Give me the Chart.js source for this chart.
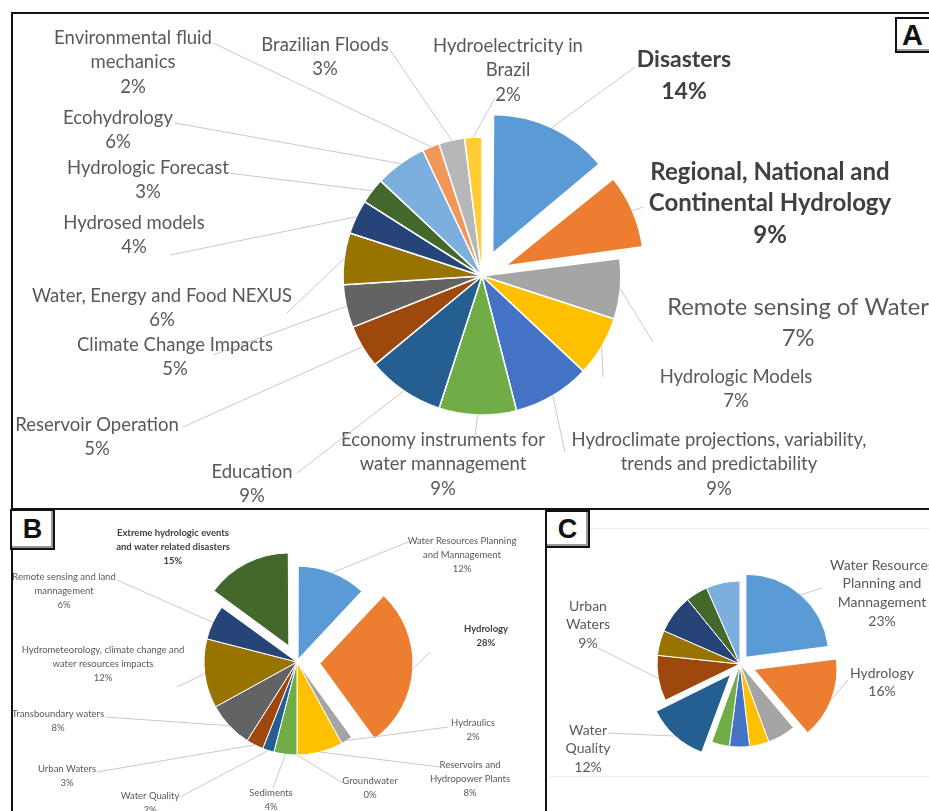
<!DOCTYPE html>
<html>
<head>
<meta charset="utf-8">
<script src="https://cdn.jsdelivr.net/npm/chart.js@4.4.1/dist/chart.umd.min.js"></script>
<style>
  body { margin: 0; width: 929px; height: 811px; overflow: hidden; position: relative; background: #fff; font-family: Lato, sans-serif; }
  .frame { position: absolute; border: 2px solid #111; box-sizing: border-box; }
  .tag { position: absolute; border: 2px solid #111; background: #fff; box-sizing: border-box;
         font: bold 27px "Liberation Sans", Arial, sans-serif; color: #111; text-align: center;
         box-shadow: inset -2px -2px 0 #999; }
  .rule { position: absolute; height: 1px; background: #eee; }
  canvas { position: absolute; left: 0; top: 0; }
</style>
</head>
<body>
<div class="frame" style="left:11px;top:12px;width:940px;height:498px"></div>
<div class="frame" style="left:11px;top:508px;width:536px;height:320px"></div>
<div class="frame" style="left:545px;top:508px;width:400px;height:320px"></div>
<div class="rule" style="left:590px;top:528px;width:339px"></div>
<div class="rule" style="left:550px;top:776px;width:379px"></div>
<div class="tag" style="left:895px;top:17px;width:40px;height:36px;line-height:32px;text-align:left;padding-left:5px;font-size:29px">A</div>
<div class="tag" style="left:10px;top:509px;width:45px;height:41px;line-height:37px">B</div>
<div class="tag" style="left:545px;top:510px;width:45px;height:38px;line-height:34px">C</div>

<canvas id="pieA" width="929" height="811"></canvas>
<canvas id="pieB" width="929" height="811"></canvas>
<canvas id="pieC" width="929" height="811"></canvas>

<script>
// ---- data ----
var catA = ['Disasters', 'Regional, National and\nContinental Hydrology', 'Remote sensing of Water',
  'Hydrologic Models', 'Hydroclimate projections, variability,\ntrends and predictability',
  'Economy instruments for\nwater mannagement', 'Education', 'Reservoir Operation',
  'Climate Change Impacts', 'Water, Energy and Food NEXUS', 'Hydrosed models', 'Hydrologic Forecast',
  'Ecohydrology', 'Environmental fluid\nmechanics', 'Brazilian Floods', 'Hydroelectricity in\nBrazil'];
var valA = [14, 9, 7, 7, 9, 9, 9, 5, 5, 6, 4, 3, 6, 2, 3, 2];

var catB = ['Water Resources Planning\nand Mannagement', 'Hydrology', 'Hydraulics',
  'Reservoirs and\nHydropower Plants', 'Groundwater', 'Sediments', 'Water Quality', 'Urban Waters',
  'Transboundary waters', 'Hydrometeorology, climate change and\nwater resources impacts',
  'Remote sensing and land\nmannagement', 'Extreme hydrologic events\nand water related disasters'];
var valB = [12, 28, 2, 8, 0, 4, 2, 3, 8, 12, 6, 15];

var catC = ['Water Resources\nPlanning and\nMannagement', 'Hydrology', '', '', '', '',
  'Water\nQuality', 'Urban\nWaters', '', '', '', '', ''];
var valC = [23, 16, 5.5, 3.8, 3.9, 3.5, 12.3, 8.9, 0, 4.9, 7.6, 4.3, 6.6];

// ---- styles ----
var office = ['#5B9BD5', '#ED7D31', '#A5A5A5', '#FFC000', '#4472C4', '#70AD47', '#255E91', '#9E480E',
  '#636363', '#997300', '#264478', '#43682B', '#7CAFDD', '#F1975A', '#B7B7B7', '#FFCD33'];

// label text position (x, y of first line) and leader anchor (ax, ay)
var labA = [
  {x: 684, y: 60, ax: 635, ay: 67, size: 23, lh: 32, bold: true},
  {x: 770, y: 172, ax: 643, ay: 207, size: 24, lh: 31.5, bold: true},
  {x: 798, y: 307, ax: 653, ay: 342, size: 23.7, lh: 31},
  {x: 736, y: 377, ax: 603, ay: 377},
  {x: 719, y: 440, ax: 565, ay: 452},
  {x: 443, y: 440, ax: 475, ay: 436},
  {x: 252, y: 472, ax: 297, ay: 473},
  {x: 97, y: 425, ax: 183, ay: 427},
  {x: 175, y: 345, ax: 213, ay: 355},
  {x: 162, y: 296, ax: 287, ay: 313},
  {x: 134, y: 223, ax: 170, ay: 255},
  {x: 148, y: 168, ax: 228, ay: 173},
  {x: 118, y: 118, ax: 175, ay: 123},
  {x: 133, y: 38, ax: 213, ay: 43},
  {x: 325, y: 45, ax: 390, ay: 50},
  {x: 508, y: 46, ax: 495, ay: 98}
];
var labB = [
  {x: 462, y: 541, ax: 408, ay: 542},
  {x: 486, y: 629, ax: 430, ay: 652, bold: true},
  {x: 473, y: 723, ax: 448, ay: 727},
  {x: 470, y: 765, ax: 440, ay: 767},
  {x: 370, y: 781, ax: 343, ay: 783},
  {x: 271, y: 793, ax: 273, ay: 788},
  {x: 150, y: 796, ax: 180, ay: 797},
  {x: 67, y: 769, ax: 97, ay: 772},
  {x: 58, y: 714, ax: 105, ay: 717},
  {x: 103, y: 650, ax: 177, ay: 687},
  {x: 64, y: 577, ax: 117, ay: 580},
  {x: 173, y: 533, bold: true}
];
var labC = [
  {x: 882, y: 565, ax: 822, ay: 588},
  {x: 882, y: 673, ax: 848, ay: 680},
  null, null, null, null,
  {x: 588, y: 730, ax: 608, ay: 733},
  {x: 588, y: 606, ax: 598, ay: 648}
];

// Chart.js moves an exploded arc by offset/4 and also grows its radius a bit;
// keep exploded slices at the same radius as the others
var sameRadius = {
  id: 'sameRadius',
  afterDatasetsUpdate: function (chart) {
    var meta = chart.getDatasetMeta(0);
    var ds = chart.data.datasets[0];
    meta.data.forEach(function (arc, i) {
      var t = (ds.offset[i] || 0) / 4;
      if (!t) return;
      var fix = 1 - Math.sin(Math.min(Math.PI, arc.circumference || 0));
      arc.outerRadius = ds.radius - t * fix;
    });
  }
};

var pieLabels = {
  id: 'pieLabels',
  afterDatasetsDraw: function (chart, args, opts) {
    var ctx = chart.ctx;
    var meta = chart.getDatasetMeta(0);
    var ds = chart.data.datasets[0];
    ctx.save();
    opts.items.forEach(function (it, i) {
      if (!it) return;
      var arc = meta.data[i];
      var p = arc.getProps(['x', 'y', 'startAngle', 'endAngle']);
      var mid = (p.startAngle + p.endAngle) / 2;
      var reach = ds.radius + (ds.offset[i] || 0) / 4;
      if (it.ax !== undefined) {
        ctx.strokeStyle = '#c9c9c9';
        ctx.lineWidth = 1;
        ctx.beginPath();
        ctx.moveTo(it.ax, it.ay);
        ctx.lineTo(p.x + Math.cos(mid) * reach, p.y + Math.sin(mid) * reach);
        ctx.stroke();
      }
      var lines = chart.data.labels[i].split('\n');
      lines.push(Math.round(ds.data[i]) + '%');
      var size = it.size || opts.size;
      var lh = it.lh || opts.lh;
      ctx.font = (it.bold ? 'bold ' : '') + size + 'px Lato';
      ctx.fillStyle = it.bold ? '#404040' : '#595959';
      ctx.textAlign = 'center';
      ctx.textBaseline = 'middle';
      lines.forEach(function (t, k) {
        ctx.fillText(t, it.x, it.y + k * lh);
      });
    });
    ctx.restore();
  }
};

function makePie(id, cats, vals, offsets, cx, cy, r, s, bw, items, size, lh) {
  return new Chart(id, {
    type: 'pie',
    data: {
      labels: cats,
      datasets: [{
        data: vals,
        backgroundColor: office.slice(0, vals.length),
        borderColor: '#ffffff',
        borderWidth: bw,
        offset: offsets,
        hoverOffset: 0,
        radius: r
      }]
    },
    options: {
      responsive: false,
      animation: false,
      events: [],
      layout: {
        padding: {left: cx - s, right: 929 - cx - s, top: cy - s, bottom: 811 - cy - s}
      },
      plugins: {
        legend: {display: false},
        tooltip: {enabled: false},
        pieLabels: {items: items, size: size, lh: lh}
      }
    },
    plugins: [sameRadius, pieLabels]
  });
}

makePie('pieA', catA, valA, [100, 100, 0, 0, 0, 0, 0, 0, 0, 0, 0, 0, 0, 0, 0, 0],
  482, 276, 139, 175, 1.5, labA, 18.5, 24.5);
makePie('pieB', catB, valB, [12, 92, 0, 0, 0, 0, 0, 0, 0, 0, 0, 72],
  297, 662, 93, 125, 1, labB, 9.5, 14);
makePie('pieC', catC, valC, [36, 60, 0, 0, 0, 0, 56, 0, 0, 0, 0, 0, 0],
  740, 664, 83, 105, 1, labC, 14, 18.7);
</script>
</body>
</html>
